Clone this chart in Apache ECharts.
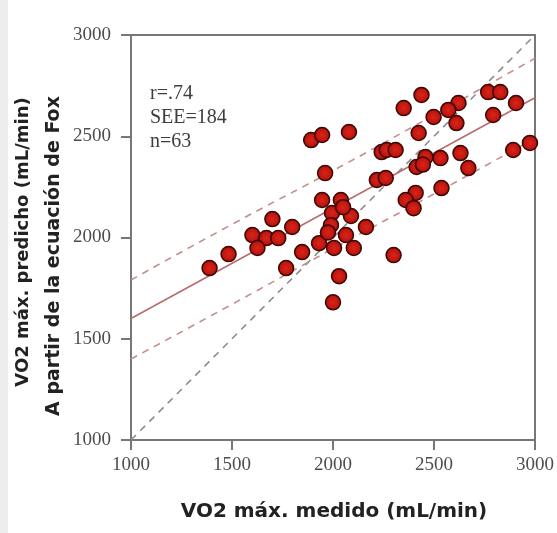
<!DOCTYPE html>
<html>
<head>
<meta charset="utf-8">
<script src="https://cdn.jsdelivr.net/npm/echarts@6/dist/echarts.min.js"></script>
<style>
  html, body { margin: 0; padding: 0; background: #ffffff; }
  #chart { width: 557px; height: 533px; }
</style>
</head>
<body>
<div id="chart"></div>
<script>
// Measured VO2max (mL/min) against the value predicted by the Fox equation
const measured = [
  1389, 1483, 1700, 1601, 1670, 1729, 1626, 1798, 1768, 1847,
  1931, 2000, 1995, 2089, 1990, 2163, 2064, 2005, 2103, 2030,
  2300, 1892, 1946, 2079, 1961, 1946, 2039, 2241, 2217, 2261,
  2438, 2350, 2621, 2571, 2498, 2611, 2424, 2266, 2310, 2458,
  2532, 2631, 2670, 2414, 2768, 2828, 2906, 2793, 2892, 2975,
  2409, 2360, 2399, 2537, 1975, 2050, 2445
];
const predicted = [
  1849, 1918, 2091, 2012, 1997, 1997, 1948, 2052, 1849, 1928,
  1972, 1680, 2121, 2106, 2061, 2052, 2012, 1948, 1948, 1809,
  1913, 2481, 2506, 2521, 2318, 2185, 2185, 2422, 2284, 2294,
  2704, 2639, 2664, 2630, 2595, 2565, 2516, 2432, 2432, 2397,
  2392, 2417, 2343, 2348, 2718, 2718, 2664, 2605, 2432, 2467,
  2220, 2185, 2145, 2244, 2025, 2150, 2360
];

// Regression line, prediction band and line of identity
const fitX = [1000, 3000];
const fitY = [1600, 2690];
const bandX = [1000, 1500, 2000, 2500, 3000];
const upperBand = [1790, 2065, 2330, 2605, 2885];
const lowerBand = [1400, 1670, 1945, 2215, 2490];
const identityX = [1000, 3000];
const identityY = [1000, 3000];

// Axis ranges and tick labels
const xTicks = [1000, 1500, 2000, 2500, 3000];
const yTicks = [1000, 1500, 2000, 2500, 3000];

const stats = ['r=.74', 'SEE=184', 'n=63'];
const xTitle = 'VO2 máx. medido (mL/min)';
const yTitle1 = 'VO2 máx. predicho (mL/min)';
const yTitle2 = 'A partir de la ecuación de Fox';

const zip = (a, b) => a.map((v, i) => [v, b[i]]);

const chart = echarts.init(document.getElementById('chart'), null, { renderer: 'canvas' });

const axisCommon = {
  type: 'value',
  interval: 500,
  axisLine: { show: true, lineStyle: { color: '#777777', width: 2 } },
  axisTick: { show: true, inside: false, length: 10, lineStyle: { color: '#777777', width: 2 } },
  splitLine: { show: false },
  axisLabel: {
    color: '#4d4d4d',
    fontFamily: 'Liberation Serif',
    fontSize: 19,
    formatter: (v) => String(v)
  }
};

chart.setOption({
  animation: false,
  backgroundColor: '#ffffff',
  grid: {
    left: 131, right: 20, top: 35, bottom: 93,
    show: true, borderColor: '#777777', borderWidth: 2
  },
  xAxis: Object.assign({}, axisCommon, {
    min: xTicks[0], max: xTicks[xTicks.length - 1],
    axisLabel: Object.assign({}, axisCommon.axisLabel, { margin: 16 })
  }),
  yAxis: Object.assign({}, axisCommon, {
    min: yTicks[0], max: yTicks[yTicks.length - 1],
    axisLabel: Object.assign({}, axisCommon.axisLabel, { margin: 20 })
  }),
  graphic: [
    { type: 'rect', left: 0, top: 0, shape: { width: 8, height: 533 }, style: { fill: '#ededed' }, z: 0 },
    {
      type: 'text', left: 150, top: 82,
      style: {
        text: stats.join('\n'),
        font: '20px "Liberation Serif"',
        lineHeight: 24,
        fill: '#3d3d3d'
      }
    },
    {
      type: 'text', x: 334, y: 512,
      style: {
        text: xTitle, font: 'bold 20px "DejaVu Sans"', fill: '#222222',
        align: 'center', verticalAlign: 'middle'
      }
    },
    {
      type: 'text', x: 23, y: 242, rotation: Math.PI / 2,
      style: {
        text: yTitle1, font: 'bold 18px "DejaVu Sans"', fill: '#222222',
        align: 'center', verticalAlign: 'middle'
      }
    },
    {
      type: 'text', x: 54, y: 256, rotation: Math.PI / 2,
      style: {
        text: yTitle2, font: 'bold 19px "DejaVu Sans"', fill: '#222222',
        align: 'center', verticalAlign: 'middle'
      }
    }
  ],
  series: [
    {
      type: 'line', data: zip(identityX, identityY), symbol: 'none', z: 1,
      lineStyle: { color: '#8c8c8c', width: 1.6, type: [7, 6] }
    },
    {
      type: 'line', data: zip(bandX, upperBand), symbol: 'none', smooth: true, z: 1,
      lineStyle: { color: '#c78d8d', width: 1.6, type: [7, 6] }
    },
    {
      type: 'line', data: zip(bandX, lowerBand), symbol: 'none', smooth: true, z: 1,
      lineStyle: { color: '#c78d8d', width: 1.6, type: [7, 6] }
    },
    {
      type: 'line', data: zip(fitX, fitY), symbol: 'none', z: 1,
      lineStyle: { color: '#b86b6b', width: 1.5 }
    },
    {
      type: 'scatter', data: zip(measured, predicted), symbol: 'circle', symbolSize: 15, z: 3,
      itemStyle: {
        color: {
          type: 'radial', x: 0.5, y: 0.5, r: 0.5,
          colorStops: [
            { offset: 0, color: '#d8261b' },
            { offset: 0.7, color: '#c0150e' },
            { offset: 1, color: '#8e0c07' }
          ]
        },
        borderColor: '#3a0906',
        borderWidth: 1.5,
        opacity: 1
      }
    }
  ]
});
</script>
</body>
</html>
